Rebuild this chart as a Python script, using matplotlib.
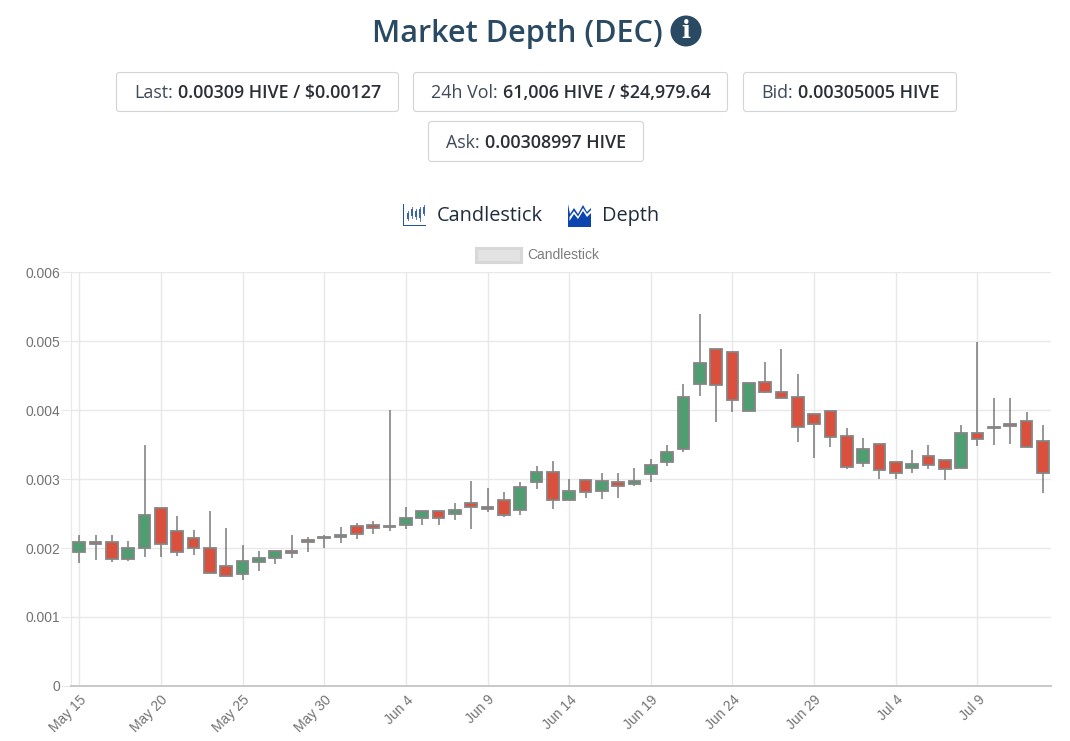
"""Market Depth (DEC): candlestick chart with the page header around it."""
import matplotlib

matplotlib.use("Agg")
import matplotlib.pyplot as plt
from matplotlib.patches import Circle, FancyBboxPatch, Polygon, Rectangle

W, H = 1070, 741

# one entry per day, values in units of 0.001 HIVE
opens = [1.937, 2.09, 2.087, 1.84, 2.00, 2.58, 2.24, 2.145, 2.00, 1.74,
         1.62, 1.80, 1.85, 1.95, 2.115, 2.14, 2.16, 2.32, 2.33, 2.32,
         2.34, 2.435, 2.54, 2.49, 2.65, 2.60, 2.69, 2.545, 2.965, 3.10,
         2.70, 2.98, 2.83, 2.955, 2.93, 3.08, 3.255, 3.44, 4.38, 4.89,
         4.85, 3.985, 4.41, 4.27, 4.19, 3.94, 3.99, 3.63, 3.24, 3.51,
         3.25, 3.16, 3.34, 3.27, 3.16, 3.675, 3.75, 3.80, 3.84, 3.555]
closes = [2.087, 2.06, 1.84, 2.00, 2.48, 2.06, 1.94, 2.00, 1.64, 1.60,
          1.81, 1.855, 1.95, 1.93, 2.087, 2.16, 2.19, 2.20, 2.285, 2.30,
          2.44, 2.54, 2.43, 2.545, 2.60, 2.56, 2.48, 2.88, 3.10, 2.70,
          2.83, 2.815, 2.97, 2.90, 2.97, 3.20, 3.40, 4.19, 4.69, 4.37,
          4.15, 4.39, 4.27, 4.18, 3.75, 3.80, 3.61, 3.18, 3.44, 3.13,
          3.095, 3.225, 3.205, 3.14, 3.675, 3.58, 3.74, 3.77, 3.47, 3.085]
highs = [2.19, 2.19, 2.19, 2.10, 3.50, 2.58, 2.46, 2.26, 2.54, 2.29,
         2.04, 1.95, 1.95, 2.19, 2.16, 2.19, 2.30, 2.36, 2.385, 4.00,
         2.59, 2.54, 2.54, 2.65, 2.975, 2.87, 2.82, 2.965, 3.195, 3.26,
         3.00, 2.98, 3.095, 3.095, 3.155, 3.285, 3.495, 4.38, 5.39, 4.89,
         4.85, 4.41, 4.70, 4.89, 4.52, 3.94, 3.99, 3.74, 3.59, 3.51,
         3.25, 3.42, 3.49, 3.27, 3.79, 4.99, 4.17, 4.17, 3.98, 3.78]
lows = [1.78, 1.82, 1.80, 1.81, 1.87, 1.87, 1.88, 1.90, 1.64, 1.60,
        1.54, 1.66, 1.77, 1.855, 1.94, 2.00, 2.07, 2.13, 2.20, 2.24,
        2.275, 2.34, 2.34, 2.40, 2.275, 2.52, 2.45, 2.48, 2.86, 2.57,
        2.70, 2.72, 2.715, 2.725, 2.905, 2.955, 3.195, 3.40, 4.21, 3.83,
        3.98, 3.985, 4.25, 4.18, 3.535, 3.30, 3.47, 3.14, 3.18, 3.00,
        3.00, 3.095, 3.14, 2.99, 3.16, 3.48, 3.49, 3.51, 3.47, 2.80]

x_tick_pos = [0, 5, 10, 15, 20, 25, 30, 35, 40, 45, 50, 55]
x_tick_labels = ["May 15", "May 20", "May 25", "May 30", "Jun 4", "Jun 9",
                 "Jun 14", "Jun 19", "Jun 24", "Jun 29", "Jul 4", "Jul 9"]
y_ticks = [0, 1, 2, 3, 4, 5, 6]
y_tick_labels = ["0", "0.001", "0.002", "0.003", "0.004", "0.005", "0.006"]

GREEN = "#4f9e72"
RED = "#da503c"
EDGE = "#858585"
NAVY = "#2a4a63"
TEXT = "#3f4a5a"
BLUE = "#2050a8"
TICK = "#737373"


def fx(px):
    return px / W


def fy(px):
    return 1 - px / H


def label_pair(fig, x, y, normal, bold):
    # Normal label followed by the bold value, as in the page's buttons
    t = fig.text(fx(x), fy(y), normal, family="Open Sans", fontsize=12.9,
                 color=TEXT, va="center")
    ext = t.get_window_extent(fig.canvas.get_renderer())
    fig.text(ext.x1 / W + fx(5), fy(y), bold, family="Open Sans", fontsize=12.9,
             color="#2b2f36", weight="semibold", va="center")


def button(fig, x0, y0, x1, y1):
    fig.add_artist(FancyBboxPatch((x0, H - y1), x1 - x0, y1 - y0,
                                  boxstyle="round,pad=0,rounding_size=3",
                                  transform=None, fc="white", ec="#d2d4d8", lw=0.8))


fig = plt.figure(figsize=(W / 100, H / 100), dpi=100)
ax = fig.add_axes([fx(71), fy(685.8), fx(1051 - 71), 413.4 / H])

# header
fig.text(fx(517), fy(34), "Market Depth (DEC)", family="Open Sans", fontsize=22.1,
         color=NAVY, weight="semibold", ha="center", va="center")
fig.add_artist(Circle((686, H - 31), 15.5, transform=None, fc=NAVY, ec="none"))
fig.text(fx(686), fy(31), "i", family="DejaVu Serif", fontsize=17, color="white",
         weight="bold", ha="center", va="center")

button(fig, 116.5, 72.5, 398.5, 111.5)
button(fig, 413.5, 72.5, 727.5, 111.5)
button(fig, 743.5, 72.5, 956.5, 111.5)
button(fig, 428.5, 121.5, 643.5, 161.5)
label_pair(fig, 134, 93, "Last:", "0.00309 HIVE / $0.00127")
label_pair(fig, 431, 93, "24h Vol:", "61,006 HIVE / $24,979.64")
label_pair(fig, 761, 93, "Bid:", "0.00305005 HIVE")
label_pair(fig, 446, 143, "Ask:", "0.00308997 HIVE")

# chart type switch with its two little icons
fig.text(fx(437), fy(216), "Candlestick", family="Open Sans", fontsize=14.3,
         color="#1f2d3d", va="center")
fig.text(fx(602), fy(216), "Depth", family="Open Sans", fontsize=14.3,
         color="#1f2d3d", va="center")
fig.add_artist(Rectangle((403, H - 226), 23, 1.3, transform=None, fc=BLUE, ec="none"))
fig.add_artist(Rectangle((403, H - 226), 1.3, 22, transform=None, fc=BLUE, ec="none"))
for px, top, bot, btop, bbot in [(407.5, 211, 221, 213, 219), (411.5, 207, 219, 209, 216),
                                 (415.5, 209, 220, 211, 217), (419.5, 207, 222, 209, 218),
                                 (423.5, 205, 216, 207, 214)]:
    fig.add_artist(Rectangle((px, H - bot), 1, bot - top, transform=None, fc="#5b7fc4", ec="none"))
    fig.add_artist(Rectangle((px - 0.7, H - bbot), 2.4, bbot - btop, transform=None,
                             fc="#3a64b0", ec="none"))
fig.add_artist(Polygon([(568, H - 227), (568, H - 204), (570, H - 214), (574, H - 208),
                        (578, H - 214), (583, H - 205), (587, H - 212), (591, H - 208),
                        (591, H - 227)],
                       transform=None, fc="#0b45ad", ec="none"))
fig.add_artist(Polygon([(569.5, H - 221), (574, H - 214), (578, H - 219), (583, H - 211),
                        (587, H - 217), (591, H - 213), (591, H - 210), (587, H - 214),
                        (583, H - 208), (578, H - 216.5), (574, H - 211), (569.5, H - 217)],
                       transform=None, fc="white", ec="none"))

# chart's own legend
fig.add_artist(Rectangle((476, H - 261.5), 44.5, 13.5, transform=None, fc="#e3e3e3",
                         ec="#d8d8d8", lw=2.2))
fig.text(fx(527), fy(254.5), "Candlestick", family="Liberation Sans", fontsize=10,
         color="#7d7d7d", va="center")

# candles
positions = range(len(opens))
ax.vlines(positions, lows, highs, color="#666666", lw=1.2, alpha=0.8, zorder=3)
colors = [GREEN if c >= o else RED for o, c in zip(opens, closes)]
bottoms = [min(o, c) for o, c in zip(opens, closes)]
heights = [abs(c - o) for o, c in zip(opens, closes)]
ax.bar(positions, heights, bottom=bottoms, width=0.72, color=colors,
       edgecolor=EDGE, linewidth=1.3, zorder=4)

ax.set_xlim(-0.5, 59.5)
ax.set_ylim(0, 6)
ax.set_yticks(y_ticks, y_tick_labels)
ax.set_xticks(x_tick_pos, x_tick_labels)
ax.grid(True, color="#e8e8e8", lw=1)
ax.set_axisbelow(True)
for name in ("top", "right"):
    ax.spines[name].set_visible(False)
ax.spines["left"].set_color("#e8e8e8")
ax.spines["bottom"].set_color("#c8c8c8")
ax.spines["bottom"].set_linewidth(1.4)
ax.tick_params(axis="y", length=7.5, width=0.8, color="#e8e8e8", pad=0.5, labelsize=10,
               labelcolor=TICK, labelfontfamily="Liberation Sans")
ax.tick_params(axis="x", length=0, pad=5, labelsize=10, labelcolor=TICK,
               labelfontfamily="Liberation Sans")
for lab in ax.get_xticklabels():
    lab.set_rotation(45)
    lab.set_ha("right")
    lab.set_rotation_mode("anchor")

fig.savefig("out.png", dpi=100)
